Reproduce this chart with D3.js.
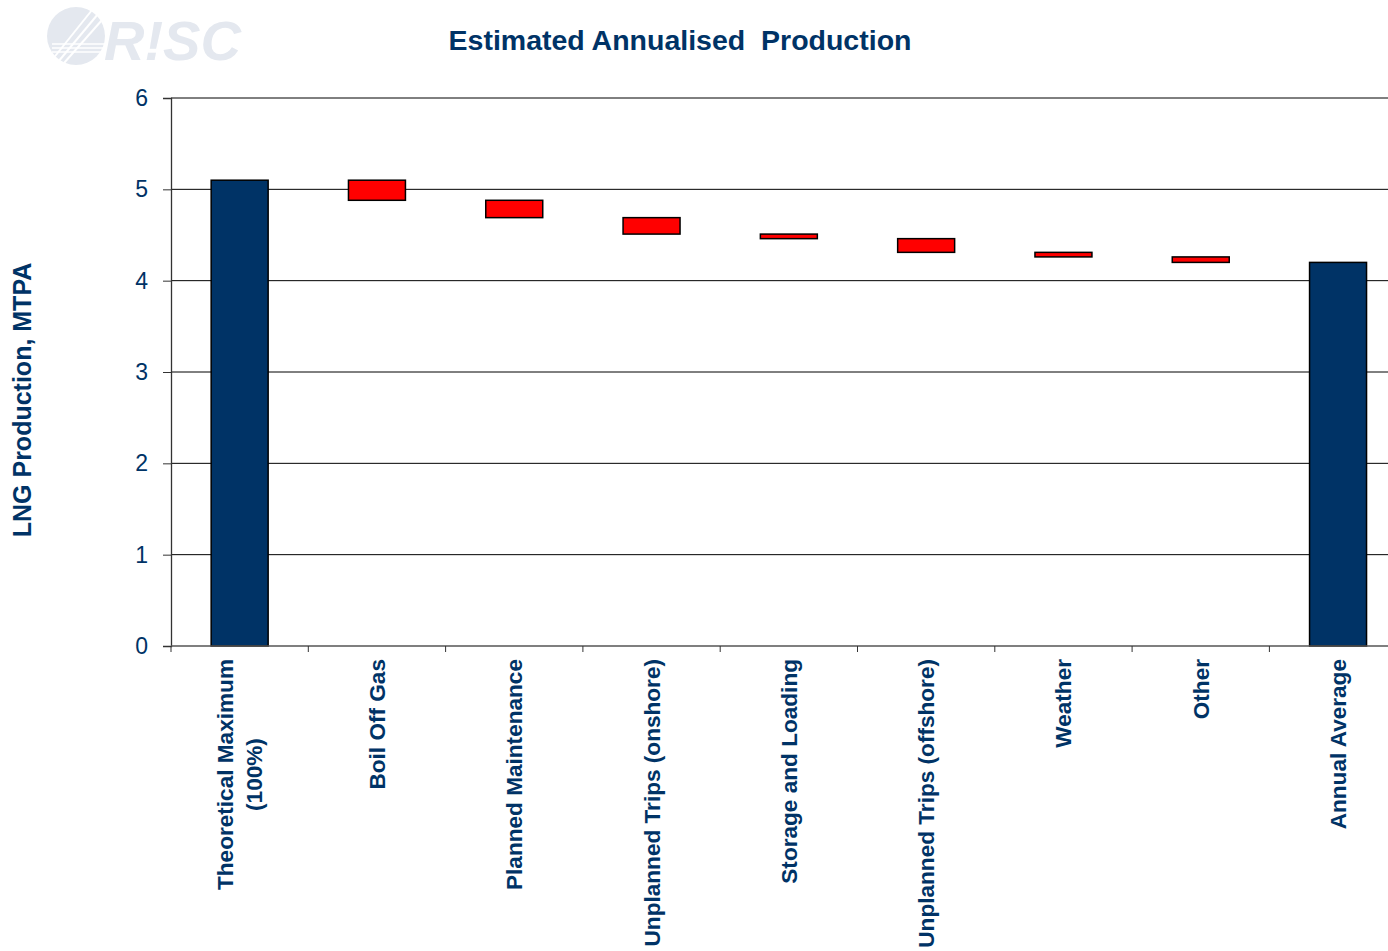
<!DOCTYPE html>
<html>
<head>
<meta charset="utf-8">
<script src="https://cdn.jsdelivr.net/npm/d3@7"></script>
<style>
  html, body { margin: 0; padding: 0; background: #fff; }
  svg { display: block; }
  text { font-family: "Liberation Sans", Arial, sans-serif; }
</style>
</head>
<body>
<svg id="chart" width="1388" height="951"></svg>
<script>
// ---- data ----
const categories = [
  ["Theoretical Maximum", "(100%)"],
  ["Boil Off Gas"],
  ["Planned Maintenance"],
  ["Unplanned Trips (onshore)"],
  ["Storage and Loading"],
  ["Unplanned Trips (offshore)"],
  ["Weather"],
  ["Other"],
  ["Annual Average"]
];
const startTotal = 5.10;                 // Theoretical Maximum
const losses = [0.22, 0.19, 0.18, 0.05, 0.15, 0.05, 0.06]; // step reductions
const endTotal = 4.20;                   // Annual Average
const yTicks = [0, 1, 2, 3, 4, 5, 6];
const titleText = "Estimated Annualised  Production";
const yAxisTitle = "LNG Production, MTPA";

// ---- build waterfall segments ----
const keys = categories.map((c, i) => "c" + i);
const segs = [];
segs.push({ key: keys[0], lo: 0, hi: startTotal, type: "total" });
let level = startTotal;
losses.forEach((v, i) => {
  segs.push({ key: keys[i + 1], lo: level - v, hi: level, type: "loss" });
  level -= v;
});
segs.push({ key: keys[keys.length - 1], lo: 0, hi: endTotal, type: "total" });

const navy = "#003366";
const svg = d3.select("#chart");

const plotLeft = 171, plotTop = 98, plotBottom = 646;
const bandW = 137.3;
const x = d3.scaleBand().domain(keys).range([plotLeft, plotLeft + bandW * keys.length]).padding(0);
const y = d3.scaleLinear().domain([0, 6]).range([plotBottom, plotTop]);

// ---- logo watermark ----
const logo = svg.append("g").attr("class", "logo");
logo.append("circle").attr("cx", 76).attr("cy", 36).attr("r", 29).attr("fill", "#e4e8ef");
[[52, 60, 92, 10], [58, 62, 98, 14], [64, 63, 102, 20]].forEach(l => {
  logo.append("line").attr("x1", l[0]).attr("y1", l[1]).attr("x2", l[2]).attr("y2", l[3])
    .attr("stroke", "#fff").attr("stroke-width", 2);
});
[44, 48, 52].forEach(yy => {
  logo.append("line").attr("x1", 52).attr("y1", yy).attr("x2", 108).attr("y2", yy)
    .attr("stroke", "#fff").attr("stroke-width", 1.5);
});
logo.append("text").attr("x", 104).attr("y", 60)
  .attr("font-size", 56).attr("font-weight", "bold").attr("font-style", "italic")
  .attr("fill", "#e4e8ef").text("R!SC");

// ---- title ----
svg.append("text").attr("x", 680).attr("y", 50).attr("text-anchor", "middle")
  .attr("font-size", 28.5).attr("font-weight", "bold").attr("fill", navy)
  .style("white-space", "pre").text(titleText);

// ---- gridlines ----
svg.append("g").selectAll("line").data(yTicks.filter(d => d > 0)).join("line")
  .attr("x1", plotLeft).attr("x2", 1388)
  .attr("y1", d => y(d)).attr("y2", d => y(d))
  .attr("stroke", "#000").attr("stroke-width", 1);

// ---- y axis ----
const yAxis = d3.axisLeft(y).tickValues(yTicks).tickSize(8).tickPadding(15).tickFormat(d3.format("d"));
const yg = svg.append("g").attr("transform", `translate(${plotLeft},0)`).call(yAxis);
yg.select(".domain").attr("stroke", "#333").attr("stroke-width", 1.3);
yg.selectAll(".tick line").attr("stroke", "#333");
yg.selectAll(".tick text").attr("font-size", 23).attr("fill", navy)
  .attr("font-family", "Liberation Sans, Arial, sans-serif");

// ---- bars ----
const bw = x.bandwidth() * 0.415;
svg.append("g").selectAll("rect").data(segs).join("rect")
  .attr("x", d => x(d.key) + (x.bandwidth() - bw) / 2)
  .attr("y", d => y(d.hi))
  .attr("width", bw)
  .attr("height", d => y(d.lo) - y(d.hi))
  .attr("fill", d => d.type === "total" ? navy : "#ff0000")
  .attr("stroke", "#000").attr("stroke-width", 1.5);

// ---- x axis ----
const xg = svg.append("g").attr("transform", `translate(0,${plotBottom})`);
xg.append("line").attr("x1", plotLeft).attr("x2", 1388).attr("y1", 0).attr("y2", 0)
  .attr("stroke", "#555").attr("stroke-width", 1.5);
xg.selectAll("line.tk").data(keys).join("line").attr("class", "tk")
  .attr("x1", d => x(d)).attr("x2", d => x(d)).attr("y1", 0).attr("y2", 6)
  .attr("stroke", "#333").attr("stroke-width", 1);

// category labels (rotated, top aligned, lines centred on each other)
const labelTop = 659;
const lineGap = 29;
categories.forEach((lines, i) => {
  const cx = x(keys[i]) + x.bandwidth() / 2;
  const g = svg.append("g");
  const texts = lines.map(t => g.append("text")
    .attr("font-size", 22.6).attr("font-weight", "bold").attr("fill", navy)
    .attr("text-anchor", "middle").text(t));
  const maxLen = d3.max(texts, t => t.node().getComputedTextLength());
  const n = lines.length;
  texts.forEach((t, j) => {
    const off = (j - (n - 1) / 2) * lineGap + 8;
    const px = cx + off, py = labelTop + maxLen / 2;
    t.attr("transform", `translate(${px},${py}) rotate(-90)`);
  });
});

// ---- y axis title ----
svg.append("text").attr("transform", "translate(31,400) rotate(-90)")
  .attr("text-anchor", "middle").attr("font-size", 25).attr("font-weight", "bold")
  .attr("fill", navy).text(yAxisTitle);
</script>
</body>
</html>
